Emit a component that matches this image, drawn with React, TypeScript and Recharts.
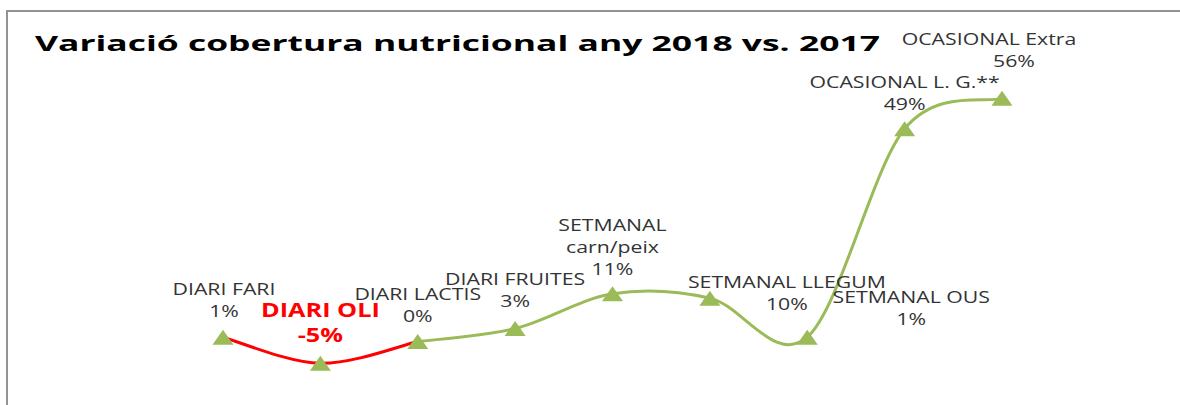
import React from 'react';
import { LineChart, Line, XAxis, YAxis } from 'recharts';

const categories = [
  'DIARI FARI',
  'DIARI OLI',
  'DIARI LACTIS',
  'DIARI FRUITES',
  'SETMANAL\ncarn/peix',
  'SETMANAL LLEGUM',
  'SETMANAL OUS',
  'OCASIONAL L. G.**',
  'OCASIONAL Extra',
];
const variation = [1, -5, 0, 3, 11, 10, 1, 49, 56];
// the stretch drawn in red (the drop in oil)
const redSegment = ['DIARI FARI', 'DIARI OLI', 'DIARI LACTIS'];
const highlighted = ['DIARI OLI'];
const title = 'Variació cobertura nutricional any 2018 vs. 2017';

// label placement relative to each point (pct baseline), Excel labels were moved by hand
const labelPos = [
  { dx: 1, dy: -20, nameDx: 0 },
  { dx: 0, dy: -21, nameDx: 0 },
  { dx: 0, dy: -19.5, nameDx: 0 },
  { dx: 0, dy: -22, nameDx: 0 },
  { dx: 0, dy: -19, nameDx: 0 },
  { dx: 77, dy: 12, nameDx: 0 },
  { dx: 104, dy: -12, nameDx: 0 },
  { dx: 0, dy: -19, nameDx: 0 },
  { dx: 12, dy: -31.5, nameDx: -25 },
];

const GREEN = '#9BBB59';
const RED = '#FF0000';
const TEXT = '#333333';

const lastRed = categories.indexOf(redSegment[redSegment.length - 1]);
const chartData = categories.map((name, i) => ({
  name,
  value: variation[i],
  red: redSegment.includes(name) ? variation[i] : null,
  green: i >= lastRed ? variation[i] : null,
}));

// Excel-style smoothed line: bezier with control points at 1/6 of neighbour chord
const excelCurve = (context: any) => {
  let xs: number[] = [];
  let ys: number[] = [];
  return {
    areaStart() {},
    areaEnd() {},
    lineStart() {
      xs = [];
      ys = [];
    },
    point(x: number, y: number) {
      xs.push(+x);
      ys.push(+y);
    },
    lineEnd() {
      const n = xs.length;
      if (!n) return;
      context.moveTo(xs[0], ys[0]);
      for (let i = 0; i < n - 1; i++) {
        const p = Math.max(i - 1, 0);
        const q = Math.min(i + 2, n - 1);
        const c1x = xs[i] + (xs[i + 1] - xs[p]) / 6;
        const c1y = ys[i] + (ys[i + 1] - ys[p]) / 6;
        const c2x = xs[i + 1] - (xs[q] - xs[i]) / 6;
        const c2y = ys[i + 1] - (ys[q] - ys[i]) / 6;
        context.bezierCurveTo(c1x, c1y, c2x, c2y, xs[i + 1], ys[i + 1]);
      }
    },
  };
};

const renderDot = (props: any) => {
  const { cx, cy, index, payload } = props;
  if (cx == null || cy == null) return <g key={`d-${index}`} />;
  const pos = labelPos[index];
  const isHi = highlighted.includes(payload.name);
  const lines = String(payload.name).split('\n');
  const lh = isHi ? 25 : 22;
  const x = cx + pos.dx;
  const y = cy + pos.dy;
  const style = {
    fontFamily: '"Open Sans", sans-serif',
    fontSize: isHi ? 19 : 16,
    fontWeight: isHi ? 700 : 400,
    fill: isHi ? RED : TEXT,
  };
  const sx = 1.33;
  return (
    <g key={`d-${index}`}>
      <polygon
        points={`${cx},${cy - 7.5} ${cx - 10.5},${cy + 7.5} ${cx + 10.5},${cy + 7.5}`}
        fill={GREEN}
      />
      {lines.map((ln, k) => (
        <text
          key={k}
          transform={`translate(${x + pos.nameDx},${y - lh * (lines.length - k)}) scale(${sx},1)`}
          textAnchor="middle"
          style={style}
        >
          {ln}
        </text>
      ))}
      <text transform={`translate(${x},${y}) scale(${sx},1)`} textAnchor="middle" style={style}>
        {`${payload.value}%`}
      </text>
    </g>
  );
};

export default function App() {
  return (
    <div
      style={{
        position: 'absolute',
        left: 0,
        top: 0,
        width: 1180,
        height: 405,
        overflow: 'hidden',
        background: '#fff',
      }}
    >
      <svg width={1180} height={405} style={{ position: 'absolute', left: 0, top: 0 }}>
        <line x1={6} y1={11} x2={1180} y2={11} stroke="#939393" strokeWidth={2} />
        <line x1={7} y1={10} x2={7} y2={405} stroke="#939393" strokeWidth={2} />
        <text
          x={35}
          y={51}
          textLength={845}
          lengthAdjust="spacingAndGlyphs"
          style={{ fontFamily: '"Open Sans", sans-serif', fontSize: 22, fontWeight: 700, fill: '#000' }}
        >
          {title}
        </text>
      </svg>
      <LineChart
        width={1180}
        height={405}
        data={chartData}
        margin={{ top: 81, right: 178, bottom: 20, left: 223 }}
        style={{ position: 'absolute', left: 0, top: 0 }}
      >
        <XAxis dataKey="name" hide />
        <YAxis hide domain={[-10, 60]} />
        <Line
          dataKey="red"
          type={excelCurve as any}
          stroke={RED}
          strokeWidth={3}
          dot={false}
          activeDot={false}
          isAnimationActive={false}
        />
        <Line
          dataKey="green"
          type={excelCurve as any}
          stroke={GREEN}
          strokeWidth={3}
          dot={false}
          activeDot={false}
          isAnimationActive={false}
        />
        <Line
          dataKey="value"
          stroke="none"
          dot={renderDot}
          activeDot={false}
          isAnimationActive={false}
        />
      </LineChart>
    </div>
  );
}
